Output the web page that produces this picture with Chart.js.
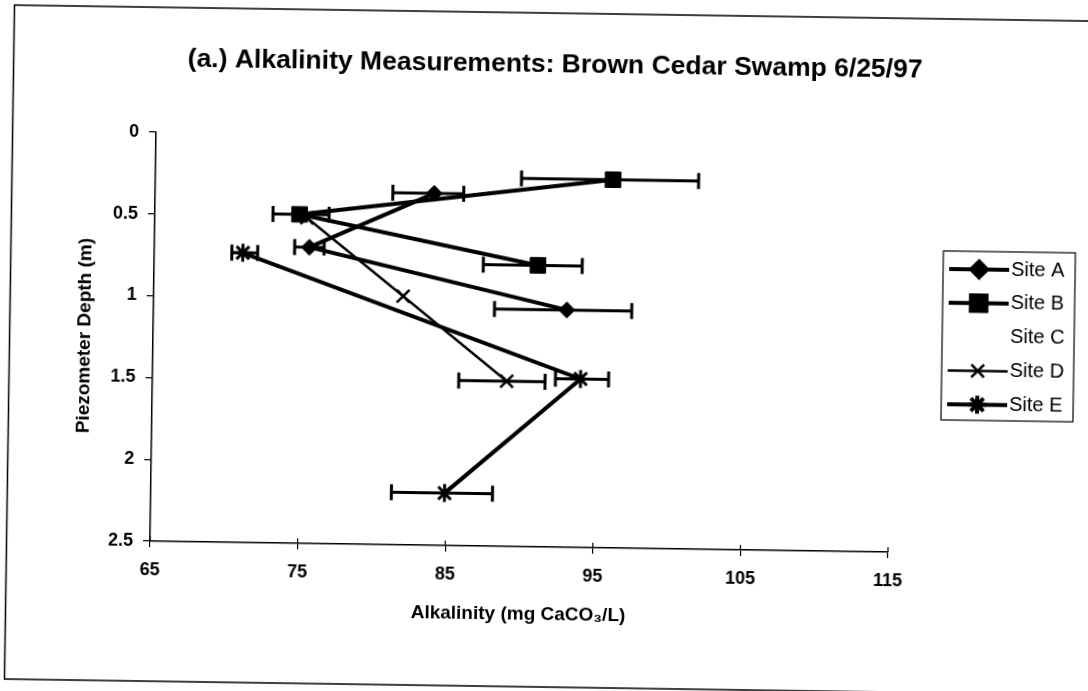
<!DOCTYPE html>
<html>
<head>
<meta charset="utf-8">
<script src="https://cdn.jsdelivr.net/npm/chart.js@4.4.1/dist/chart.umd.min.js"></script>
<style>
  html, body { margin: 0; padding: 0; background: #fff; overflow: hidden; }
  /* the scanned original sits a little crooked on the page */
  #wrap { width: 1088px; height: 691px; transform: rotate(0.85deg); transform-origin: 544px 345.5px; }
</style>
</head>
<body>
<div id="wrap"><canvas id="myChart" width="1088" height="691"></canvas></div>
<script>
/* globals Chart:false */

// data: alkalinity (mg CaCO3/L), depth (m), error bar minus / plus
const siteLabels = ['Site A', 'Site B', 'Site C', 'Site D', 'Site E']

const siteAAlk = [83.9, 75.5, 93.0]
const siteADepth = [0.35, 0.69, 1.05]
const siteAErrMinus = [2.8, 1.0, 4.9]
const siteAErrPlus = [2.0, 1.0, 4.4]

const siteBAlk = [96.0, 74.8, 91.0]
const siteBDepth = [0.25, 0.49, 0.78]
const siteBErrMinus = [6.2, 1.8, 3.7]
const siteBErrPlus = [5.8, 2.0, 3.0]

const siteCAlk = []
const siteCDepth = []
const siteCErrMinus = []
const siteCErrPlus = []

const siteDAlk = [75.3, 81.9, 89.0]
const siteDDepth = [0.51, 0.98, 1.49]
const siteDErrMinus = [0, 0, 3.25]
const siteDErrPlus = [0, 0, 2.6]

const siteEAlk = [71.0, 94.0, 84.9]
const siteEDepth = [0.73, 1.47, 2.18]
const siteEErrMinus = [0.75, 1.7, 3.6]
const siteEErrPlus = [1.0, 1.9, 3.25]

const xTicks = [65, 75, 85, 95, 105, 115]
const yTicks = [0, 0.5, 1, 1.5, 2, 2.5]

function toPoints(xs, ys) {
  return xs.map((x, i) => ({ x: x, y: ys[i] }))
}

const FONT = '"Liberation Sans", Arial, sans-serif'

// horizontal error bars with end caps, plus the small crossing ticks on the x axis
const errorBars = {
  id: 'errorBars',
  beforeDatasetsDraw(chart) {
    const ctx = chart.ctx
    const xs = chart.scales.x
    const ys = chart.scales.y
    ctx.save()
    ctx.strokeStyle = '#000'
    ctx.lineWidth = 3
    chart.data.datasets.forEach(ds => {
      if (!ds.errMinus) return
      ds.data.forEach((p, i) => {
        const lo = ds.errMinus[i]
        const hi = ds.errPlus[i]
        if (!lo && !hi) return
        const x0 = xs.getPixelForValue(p.x - lo)
        const x1 = xs.getPixelForValue(p.x + hi)
        const y = ys.getPixelForValue(p.y)
        ctx.beginPath()
        ctx.moveTo(x0, y); ctx.lineTo(x1, y)
        ctx.moveTo(x0, y - 8); ctx.lineTo(x0, y + 8)
        ctx.moveTo(x1, y - 8); ctx.lineTo(x1, y + 8)
        ctx.stroke()
      })
    })
    ctx.lineWidth = 1.2
    ctx.beginPath()
    xs.ticks.forEach(t => {
      const x = xs.getPixelForValue(t.value)
      ctx.moveTo(x, xs.top - 5); ctx.lineTo(x, xs.top)
    })
    ctx.stroke()
    ctx.restore()
  }
}

// outer frame and boxed legend (line + marker, like the original)
const frameLegend = {
  id: 'frameLegend',
  afterDraw(chart) {
    const ctx = chart.ctx
    ctx.save()
    ctx.strokeStyle = '#000'
    ctx.lineWidth = 1.5
    ctx.strokeRect(9.5, 13, 1110, 674)

    const box = { left: 942, top: 245, right: 1074, bottom: 414 }
    ctx.lineWidth = 1.2
    ctx.strokeRect(box.left, box.top, box.right - box.left, box.bottom - box.top)

    ctx.font = '20px ' + FONT
    ctx.fillStyle = '#000'
    ctx.textBaseline = 'middle'
    chart.data.datasets.forEach((ds, i) => {
      const y = 263 + i * 33.8
      if (ds.data.length) {
        ctx.lineWidth = ds.borderWidth
        ctx.beginPath()
        ctx.moveTo(948, y); ctx.lineTo(1008, y)
        ctx.stroke()
        Chart.helpers.drawPoint(ctx, {
          pointStyle: ds.pointStyle,
          radius: ds.pointRadius,
          rotation: 0,
          borderWidth: ds.pointBorderWidth
        }, 978, y)
        ctx.fill()
      }
      ctx.fillText(ds.label, 1010, y)
    })
    ctx.restore()
  }
}

function site(label, xs, ys, errMinus, errPlus, style, radius, lineWidth, pointBorder) {
  return {
    label: label,
    data: toPoints(xs, ys),
    errMinus: errMinus,
    errPlus: errPlus,
    showLine: true,
    borderColor: '#000',
    backgroundColor: '#000',
    borderWidth: lineWidth,
    pointStyle: style,
    pointRadius: radius,
    pointHoverRadius: radius,
    pointBorderWidth: pointBorder,
    pointBackgroundColor: '#000',
    pointBorderColor: '#000'
  }
}

const ctx = document.getElementById('myChart')
new Chart(ctx, {
  type: 'scatter',
  data: {
    datasets: [
      site(siteLabels[0], siteAAlk, siteADepth, siteAErrMinus, siteAErrPlus, 'rectRot', 8, 4, 1),
      site(siteLabels[1], siteBAlk, siteBDepth, siteBErrMinus, siteBErrPlus, 'rect', 11, 4, 1),
      site(siteLabels[2], siteCAlk, siteCDepth, siteCErrMinus, siteCErrPlus, 'circle', 0, 0, 0),
      site(siteLabels[3], siteDAlk, siteDDepth, siteDErrMinus, siteDErrPlus, 'crossRot', 9, 2.5, 2.5),
      site(siteLabels[4], siteEAlk, siteEDepth, siteEErrMinus, siteEErrPlus, 'star', 9, 4, 3)
    ]
  },
  options: {
    responsive: false,
    animation: false,
    devicePixelRatio: 1,
    layout: { padding: { left: 14, right: 0, top: 0, bottom: 0 } },
    plugins: {
      legend: { display: false },
      tooltip: { enabled: false },
      title: {
        display: true,
        text: '(a.) Alkalinity Measurements: Brown Cedar Swamp 6/25/97',
        color: '#000',
        font: { family: FONT, size: 26.5, weight: 'bold' },
        padding: { top: 49, bottom: 57 }
      }
    },
    scales: {
      x: {
        type: 'linear',
        min: xTicks[0],
        max: xTicks[xTicks.length - 1],
        afterBuildTicks(s) { s.ticks = xTicks.map(v => ({ value: v })) },
        afterFit(s) { s.height = 144 },
        border: { display: true, color: '#000', width: 1.5 },
        grid: { display: true, drawOnChartArea: false, drawTicks: true, tickLength: 6, color: '#000', lineWidth: 1.2 },
        ticks: { color: '#000', padding: 12, font: { family: FONT, size: 18, weight: 'bold' } },
        title: {
          display: true,
          text: 'Alkalinity (mg CaCO\u2083/L)',
          color: '#000',
          font: { family: FONT, size: 19, weight: 'bold' },
          padding: { top: 0, bottom: 65 }
        }
      },
      y: {
        type: 'linear',
        reverse: true,
        min: yTicks[0],
        max: yTicks[yTicks.length - 1],
        afterBuildTicks(s) { s.ticks = yTicks.map(v => ({ value: v })) },
        afterFit(s) { s.width = 139 },
        border: { display: true, color: '#000', width: 1.5 },
        grid: { display: true, drawOnChartArea: false, drawTicks: true, tickLength: 7, color: '#000', lineWidth: 1.2 },
        ticks: {
          color: '#000',
          padding: 10,
          font: { family: FONT, size: 18, weight: 'bold' },
          callback: v => String(v)
        },
        title: {
          display: true,
          text: 'Piezometer Depth (m)',
          color: '#000',
          font: { family: FONT, size: 19, weight: 'bold' },
          padding: { top: 59, bottom: 0 }
        }
      },
      spare: {
        type: 'linear',
        position: 'right',
        display: true,
        afterFit(s) { s.width = 197 },
        border: { display: false },
        grid: { display: false },
        ticks: { display: false }
      }
    }
  },
  plugins: [errorBars, frameLegend]
})
</script>
</body>
</html>
